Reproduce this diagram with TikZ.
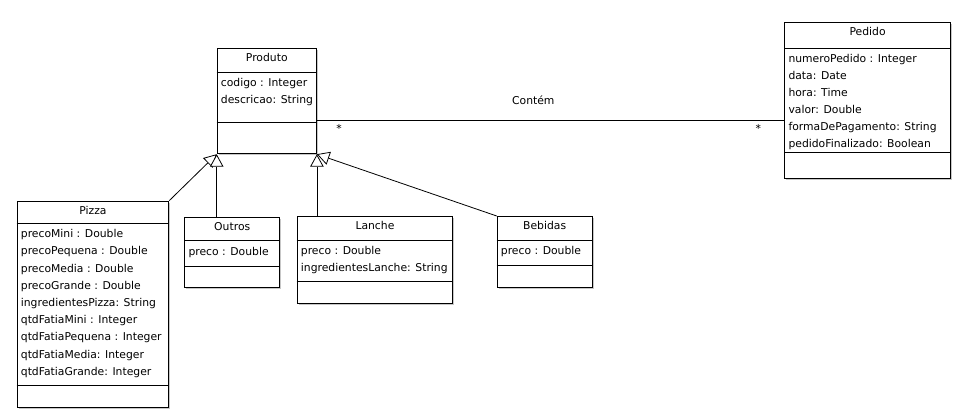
\documentclass[tikz,border=0pt]{standalone}
\usepackage{fontspec}
\setmainfont{DejaVu Sans}
\usetikzlibrary{calc, arrows.meta, shadows}

\begin{document}
\begin{tikzpicture}[
        x=1pt, y=-1pt,
        classbox/.style={draw, line width=0.9pt, fill=white, anchor=north west, inner sep=0pt,
            drop shadow={shadow xshift=1.5pt, shadow yshift=-1.5pt, fill=black!22, opacity=1}},
        title/.style={anchor=base, inner sep=0pt, font=\fontsize{10.8}{13}\selectfont},
        attr/.style={anchor=base west, inner sep=0pt, font=\fontsize{10.8}{13}\selectfont},
        sep/.style={line width=0.9pt},
        inherit/.style={line width=0.8pt, -{Triangle[open, length=12.5pt, width=13.5pt, fill=white]}}
    ]
        \useasboundingbox (0,0) rectangle (960,417);

        % Produto (superclass)
        \node[classbox, minimum width=99.3pt, minimum height=105pt] (produto) at (216.7,48.3) {};
        \draw[sep] ($(produto.north west)+(0,24)$) -- ($(produto.north east)+(0,24)$);
        \draw[sep] ($(produto.north west)+(0,73.7)$) -- ($(produto.north east)+(0,73.7)$);
        \node[title] (produto-title) at ($(produto.north)+(0,13.4)$) {Produto};
        \foreach \a [count=\i] in {codigo : Integer, descricao: String}
            \node[attr] (produto-\i) at ($(produto.north west)+(4,{38.3+17*(\i-1)})$) {\a};

        % Pedido
        \node[classbox, minimum width=165.7pt, minimum height=156pt] (pedido) at (784.3,22.3) {};
        \draw[sep] ($(pedido.north west)+(0,26)$) -- ($(pedido.north east)+(0,26)$);
        \draw[sep] ($(pedido.north west)+(0,130)$) -- ($(pedido.north east)+(0,130)$);
        \node[title] (pedido-title) at ($(pedido.north)+(0,13.4)$) {Pedido};
        \foreach \a [count=\i] in {numeroPedido : Integer, data: Date, hora: Time, valor: Double,
                formaDePagamento: String, pedidoFinalizado: Boolean}
            \node[attr] (pedido-\i) at ($(pedido.north west)+(4,{40.3+17*(\i-1)})$) {\a};

        % Pizza
        \node[classbox, minimum width=151.6pt, minimum height=206.6pt] (pizza) at (16.7,200.7) {};
        \draw[sep] ($(pizza.north west)+(0,22.6)$) -- ($(pizza.north east)+(0,22.6)$);
        \draw[sep] ($(pizza.north west)+(0,185)$) -- ($(pizza.north east)+(0,185)$);
        \node[title] (pizza-title) at ($(pizza.north)+(0,13.4)$) {Pizza};
        \foreach \a [count=\i] in {precoMini : Double, precoPequena : Double, precoMedia : Double,
                precoGrande : Double, ingredientesPizza: String, qtdFatiaMini : Integer,
                qtdFatiaPequena : Integer, qtdFatiaMedia: Integer, qtdFatiaGrande: Integer}
            \node[attr] (pizza-\i) at ($(pizza.north west)+(4,{36.9+17.2*(\i-1)})$) {\a};

        % Outros
        \node[classbox, minimum width=95pt, minimum height=70.6pt] (outros) at (184.3,216.7) {};
        \draw[sep] ($(outros.north west)+(0,24)$) -- ($(outros.north east)+(0,24)$);
        \draw[sep] ($(outros.north west)+(0,49.3)$) -- ($(outros.north east)+(0,49.3)$);
        \node[title] (outros-title) at ($(outros.north)+(0,13.4)$) {Outros};
        \node[attr] (outros-1) at ($(outros.north west)+(4,38.3)$) {preco : Double};

        % Lanche
        \node[classbox, minimum width=155.6pt, minimum height=87.3pt] (lanche) at (296.7,216) {};
        \draw[sep] ($(lanche.north west)+(0,24)$) -- ($(lanche.north east)+(0,24)$);
        \draw[sep] ($(lanche.north west)+(0,65.7)$) -- ($(lanche.north east)+(0,65.7)$);
        \node[title] (lanche-title) at ($(lanche.north)+(0,13.4)$) {Lanche};
        \foreach \a [count=\i] in {preco : Double, ingredientesLanche: String}
            \node[attr] (lanche-\i) at ($(lanche.north west)+(4,{38.3+17*(\i-1)})$) {\a};

        % Bebidas
        \node[classbox, minimum width=95pt, minimum height=71.3pt] (bebidas) at (496.7,216) {};
        \draw[sep] ($(bebidas.north west)+(0,24)$) -- ($(bebidas.north east)+(0,24)$);
        \draw[sep] ($(bebidas.north west)+(0,49.7)$) -- ($(bebidas.north east)+(0,49.7)$);
        \node[title] (bebidas-title) at ($(bebidas.north)+(0,13.4)$) {Bebidas};
        \node[attr] (bebidas-1) at ($(bebidas.north west)+(4,38.3)$) {preco : Double};

        % Generalisation arrows
        \draw[inherit] (pizza.north east) -- (produto.south west);
        \draw[inherit] (outros.north -| produto.south west) -- (produto.south west);
        \draw[inherit] (lanche.north -| produto.south east) -- (produto.south east);
        \draw[inherit] (bebidas.north west) -- (produto.south east);

        % Association Produto -- Pedido
        \coordinate (contem) at (550,120.5);
        \draw[line width=0.8pt] (produto.east |- contem) -- (pedido.west |- contem);
        \node[title, anchor=center] (contem-label) at (533.3,100) {Contém};
        \node[title, anchor=center] (mult-produto) at (339,128.3) {*};
        \node[title, anchor=center] (mult-pedido) at (758.3,128.3) {*};
    \end{tikzpicture}
\end{document}
